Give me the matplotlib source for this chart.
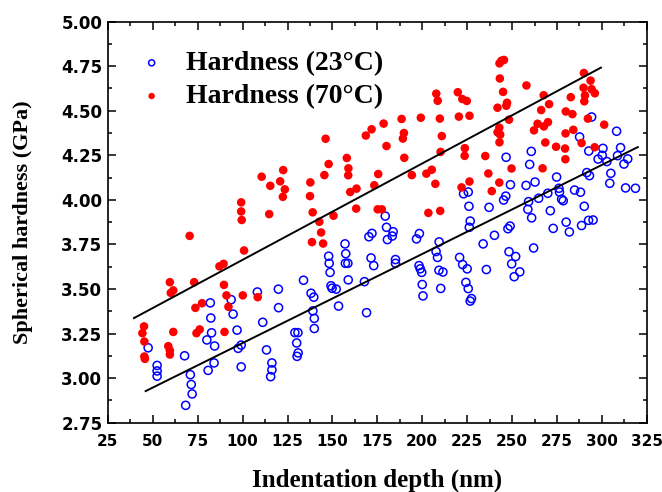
import matplotlib
matplotlib.use('Agg')
import matplotlib.pyplot as plt
import numpy as np
from matplotlib.ticker import MultipleLocator

# data
depth_23 = [47.4, 52.4, 52.4, 52.4, 67.7, 70.9, 71.4, 71.9, 68.3, 82.0, 82.3, 82.7, 80.1, 80.8,
            84.4, 84.1, 93.6, 94.7, 96.9, 97.5, 99.2, 99.2, 108.2, 111.2, 113.3, 116.3, 116.3,
            115.6, 119.9, 120.0, 129.1, 130.8, 130.1, 130.9, 130.3, 133.9, 138.1, 139.6, 139.1,
            139.9, 139.9, 147.9, 148.2, 148.7, 149.2, 149.8, 152.1, 153.4, 157.0, 157.4, 157.2,
            158.6, 158.8, 167.8, 169.0, 170.3, 172.0, 171.5, 173.0, 179.4, 180.1, 183.8, 183.3,
            180.6, 185.1, 185.1, 196.8, 198.4, 198.2, 198.9, 199.7, 200.0, 200.4, 209.4, 207.7,
            208.5, 209.3, 211.5, 210.3, 220.8, 222.5, 225.0, 224.3, 225.6, 227.4, 226.7, 226.0,
            226.7, 226.2, 223.0, 225.6, 233.9, 235.7, 237.2, 240.2, 245.3, 246.5, 246.7, 249.1,
            247.7, 248.9, 248.3, 249.8, 252.0, 251.2, 254.3, 260.7, 259.8, 262.8, 257.8, 259.2,
            258.8, 260.9, 262.0, 264.8, 269.9, 271.3, 272.9, 274.8, 276.1, 276.4, 277.6, 278.5,
            280.1, 281.9, 284.8, 288.1, 290.2, 288.7, 292.6, 295.1, 287.6, 292.7, 291.6, 293.1,
            294.3, 297.9, 300.2, 300.6, 302.8, 305.0, 304.4, 308.2, 308.7, 310.4, 312.3, 314.4,
            313.2, 318.7]
hard_23 = [3.170, 3.071, 3.040, 3.011, 3.125, 3.019, 2.964, 2.911, 2.847, 3.422, 3.337, 3.254,
           3.214, 3.043, 3.180, 3.085, 3.440, 3.359, 3.269, 3.167, 3.185, 3.063, 3.483, 3.313,
           3.158, 3.085, 3.046, 3.008, 3.499, 3.395, 3.255, 3.255, 3.197, 3.141, 3.122, 3.549,
           3.476, 3.454, 3.377, 3.335, 3.278, 3.684, 3.644, 3.593, 3.518, 3.504, 3.499, 3.404,
           3.753, 3.698, 3.644, 3.644, 3.551, 3.541, 3.367, 3.793, 3.812, 3.674, 3.631, 3.909,
           3.846, 3.821, 3.797, 3.777, 3.665, 3.644, 3.781, 3.811, 3.631, 3.613, 3.593, 3.525,
           3.461, 3.764, 3.710, 3.677, 3.605, 3.595, 3.503, 3.677, 3.637, 3.613, 3.537, 3.502,
           3.446, 3.432, 3.964, 3.881, 3.846, 4.034, 4.044, 3.753, 3.609, 3.958, 3.801, 3.999,
           4.021, 4.239, 4.085, 3.838, 3.853, 3.709, 3.641, 3.682, 3.569, 3.596, 4.272, 4.199,
           4.100, 4.081, 3.990, 3.947, 3.899, 3.730, 4.009, 4.037, 3.939, 3.840, 4.128, 4.065,
           4.044, 4.004, 3.995, 3.875, 3.820, 4.055, 4.043, 3.964, 3.856, 3.885, 3.887, 4.353,
           4.274, 4.153, 4.136, 4.465, 4.229, 4.250, 4.289, 4.215, 4.149, 4.093, 4.385, 4.248,
           4.293, 4.201, 4.230, 4.067, 4.065]

depth_70 = [99.2, 99.2, 99.5, 110.6, 115.4, 114.8, 122.6, 120.9, 123.5, 122.4, 70.5, 100.8,
            87.1, 89.4, 59.5, 61.4, 60.0, 73.0, 89.6, 91.0, 92.1, 100.1, 108.4, 77.4, 73.7, 45.1,
            44.2, 45.3, 45.3, 45.6, 61.4, 76.1, 74.3, 58.6, 59.5, 59.5, 89.9, 137.7, 137.5,
            139.0, 142.7, 143.7, 138.6, 144.8, 145.5, 146.2, 147.9, 150.6, 158.0, 158.9, 158.8,
            159.9, 163.4, 163.2, 168.6, 171.8, 178.5, 180.1, 175.5, 173.3, 175.2, 177.5, 188.5,
            189.8, 189.2, 190.0, 194.2, 199.2, 202.3, 205.3, 207.3, 203.4, 210.0, 207.8, 208.6,
            209.8, 210.9, 210.2, 219.8, 222.3, 224.8, 220.4, 226.3, 223.7, 223.6, 221.9, 226.3,
            235.1, 236.8, 238.7, 241.9, 243.0, 244.1, 245.5, 243.2, 245.0, 247.2, 246.8, 248.3,
            242.9, 241.9, 243.4, 243.0, 249.7, 242.9, 258.0, 267.6, 270.6, 266.2, 264.2, 262.2,
            267.7, 270.0, 268.5, 274.5, 267.0, 282.7, 279.9, 283.6, 284.1, 279.8, 279.5, 279.7,
            288.7, 290.0, 293.7, 289.8, 294.3, 296.1, 290.6, 290.2, 292.2, 296.0, 301.3]
hard_70 = [3.986, 3.935, 3.887, 4.130, 4.079, 3.920, 4.167, 4.104, 4.059, 4.017, 3.798, 3.716,
           3.627, 3.641, 3.538, 3.492, 3.478, 3.538, 3.523, 3.464, 3.400, 3.464, 3.454, 3.420,
           3.394, 3.290, 3.252, 3.205, 3.121, 3.108, 3.259, 3.273, 3.252, 3.179, 3.155, 3.132,
           3.259, 4.098, 4.021, 3.930, 3.877, 3.817, 3.763, 3.755, 4.139, 4.343, 4.201, 3.911,
           4.235, 4.177, 4.138, 4.044, 4.063, 3.951, 4.361, 4.396, 4.428, 4.302, 4.145, 4.082,
           3.947, 3.947, 4.454, 4.375, 4.344, 4.236, 4.139, 4.461, 4.147, 4.169, 4.090, 3.927,
           3.938, 4.596, 4.556, 4.456, 4.358, 4.269, 4.604, 4.566, 4.555, 4.467, 4.472, 4.290,
           4.247, 4.070, 4.103, 4.246, 4.148, 4.049, 4.517, 4.766, 4.781, 4.785, 4.681, 4.606,
           4.545, 4.528, 4.450, 4.405, 4.379, 4.366, 4.323, 4.176, 4.097, 4.642, 4.587, 4.537,
           4.504, 4.427, 4.390, 4.412, 4.436, 4.322, 4.298, 4.177, 4.576, 4.496, 4.481, 4.393,
           4.373, 4.288, 4.228, 4.319, 4.712, 4.669, 4.629, 4.621, 4.598, 4.586, 4.553, 4.456,
           4.295, 4.422]

# linear fits as drawn in the reference: slope, intercept, x start, x end
fit_23 = [0.004997, 2.697, 46, 320]
fit_70 = [0.005406, 3.123, 39.5, 299.5]

labels = ['Hardness (23°C)', 'Hardness (70°C)']

fig = plt.figure(figsize=(6.62, 4.92), dpi=100)
ax = fig.add_axes([0.163, 0.141, 0.814, 0.815])

ax.scatter(depth_23, hard_23, s=34, facecolors='none', edgecolors='#0000ff',
           linewidths=1.1, label=labels[0], zorder=3)
ax.scatter(depth_70, hard_70, s=38, color='#ff0000', edgecolors='none',
           label=labels[1], zorder=3)

for slope, icpt, x0, x1 in (fit_23, fit_70):
    xs = np.array([x0, x1])
    ax.plot(xs, slope * xs + icpt, color='black', lw=1.4, zorder=4)

ax.set_xlim(25, 325)
ax.set_ylim(2.75, 5.0)
ax.xaxis.set_major_locator(MultipleLocator(25))
ax.xaxis.set_minor_locator(MultipleLocator(12.5))
ax.yaxis.set_major_locator(MultipleLocator(0.25))
ax.yaxis.set_minor_locator(MultipleLocator(0.125))
ax.yaxis.set_major_formatter(plt.FormatStrFormatter('%.2f'))

ax.tick_params(which='both', direction='in', top=True, right=True, width=1.1)
ax.tick_params(which='major', length=6)
ax.tick_params(which='minor', length=3)
ax.tick_params(axis='x', pad=8)
ax.tick_params(axis='y', pad=4)
for lab in ax.get_xticklabels():
    lab.set_fontsize(11)
    lab.set_fontweight('bold')
for lab in ax.get_yticklabels():
    lab.set_fontsize(12)
    lab.set_fontweight('bold')
for sp in ax.spines.values():
    sp.set_linewidth(1.2)

ax.set_xlabel('Indentation depth (nm)', family='Liberation Serif', weight='bold',
              size=18, labelpad=14)
ax.set_ylabel('Spherical hardness (GPa)', family='Liberation Serif', weight='bold',
              size=16, labelpad=20)

leg = ax.legend(loc='upper left', bbox_to_anchor=(0.009, 0.99), frameon=False,
                prop={'family': 'Liberation Serif', 'weight': 'bold', 'size': 20},
                markerscale=0.75, handletextpad=0.75, labelspacing=0.28,
                handlelength=1.0)

fig.savefig('out.png', dpi=100)
